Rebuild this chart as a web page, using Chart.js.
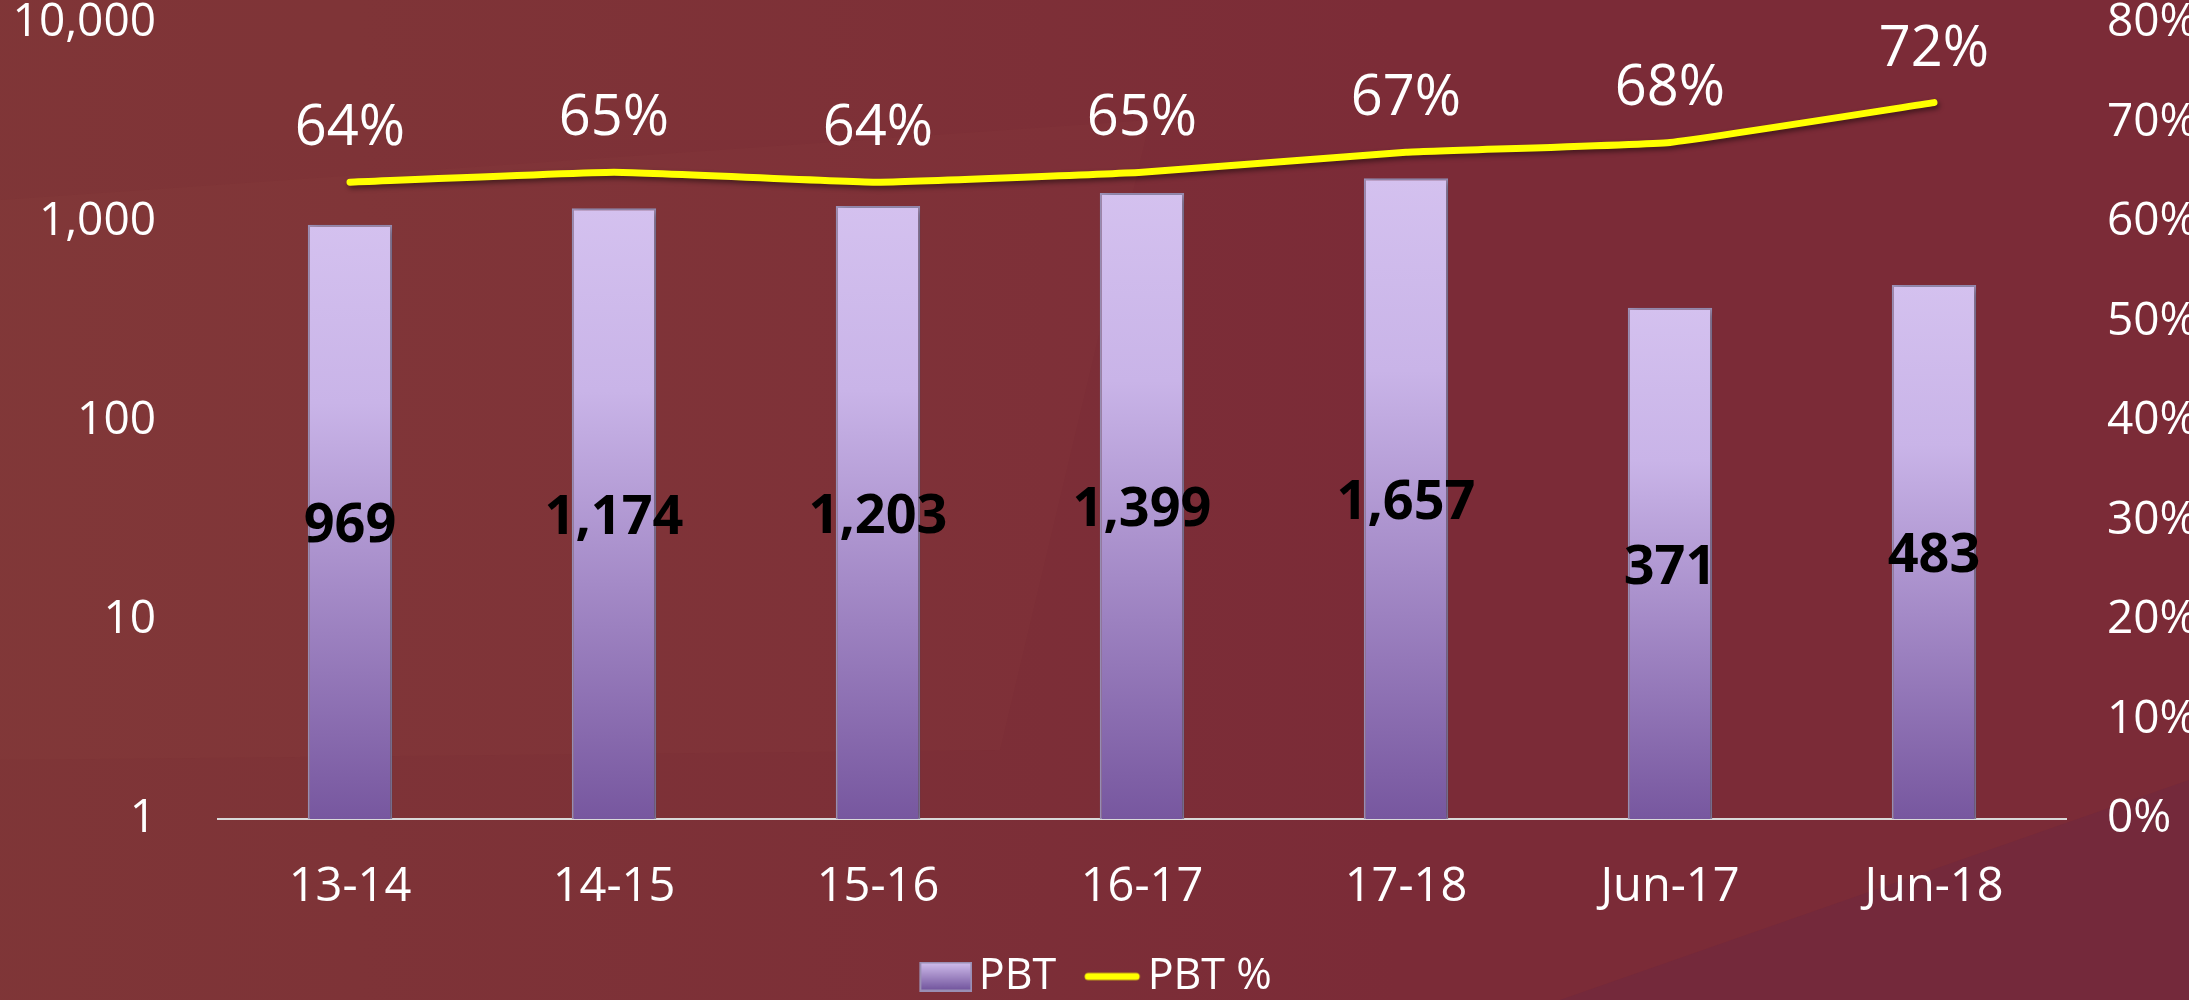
<!DOCTYPE html>
<html><head><meta charset="utf-8">
<script src="https://cdn.jsdelivr.net/npm/chart.js@4.4.0/dist/chart.umd.min.js"></script>
<style>html,body{margin:0;padding:0;background:#7c2d37;overflow:hidden}</style>
</head><body>
<canvas id="c" width="2189" height="1000"></canvas>
<script>
const categories = ['13-14','14-15','15-16','16-17','17-18','Jun-17','Jun-18'];
const pbtValues = [969, 1174, 1203, 1399, 1657, 371, 483];
const pbtPercent = [64, 65, 64, 65, 67, 68, 72];
const leftTicks = [1, 10, 100, 1000, 10000];
const rightMax = 80;
const rightStep = 10;
const seriesNames = ['PBT', 'PBT %'];

const FONT = "'Open Sans', 'Liberation Sans', sans-serif";
Chart.defaults.font.family = FONT;

function fmt(n){ return String(n).replace(/\B(?=(\d{3})+(?!\d))/g, ','); }

// legend swatches
function barSwatch(){
  const c = document.createElement('canvas'); c.width = 70; c.height = 30;
  const g = c.getContext('2d');
  const gr = g.createLinearGradient(0,0,0,30);
  gr.addColorStop(0,'#d4c1ef'); gr.addColorStop(1,'#6d4f99');
  g.fillStyle = gr; g.fillRect(17,0,53,30);
  g.strokeStyle = '#9a8fb4'; g.lineWidth = 2; g.strokeRect(18,1,51,28);
  return c;
}
function lineSwatch(){
  const c = document.createElement('canvas'); c.width = 70; c.height = 30;
  const g = c.getContext('2d');
  g.strokeStyle = '#ffff00'; g.lineWidth = 7; g.lineCap = 'round';
  g.beginPath(); g.moveTo(17,15); g.lineTo(65,15); g.stroke();
  return c;
}

const bgPlugin = {
  id: 'bg',
  beforeLayout(chart){
    const lg = chart.legend;
    if (lg && !lg._fixH){
      const orig = lg.fit.bind(lg);
      lg.fit = function(){ orig(); this.height = 75; };
      lg._fixH = true;
    }
  },
  beforeDraw(chart){
    const ctx = chart.ctx, W = chart.width, H = chart.height;
    ctx.save();
    ctx.fillStyle = '#7b2b37'; ctx.fillRect(0,0,W,H);
    let g = ctx.createLinearGradient(0,0,1400,0);
    g.addColorStop(0,'rgba(130,62,55,0.55)'); g.addColorStop(0.6,'rgba(130,62,55,0.25)'); g.addColorStop(1,'rgba(130,62,55,0)');
    ctx.fillStyle = g; ctx.fillRect(0,0,W,H);
    ctx.fillStyle = 'rgba(140,60,60,0.08)'; ctx.fillRect(0,0,1500,140);
    ctx.fillStyle = 'rgba(150,90,70,0.07)';
    ctx.beginPath(); ctx.moveTo(0,200); ctx.lineTo(1150,120); ctx.lineTo(1000,750); ctx.lineTo(0,760); ctx.closePath(); ctx.fill();
    ctx.fillStyle = 'rgba(95,35,70,0.25)';
    ctx.beginPath(); ctx.moveTo(1560,1000); ctx.lineTo(W,780); ctx.lineTo(W,H); ctx.closePath(); ctx.fill();
    ctx.restore();
  }
};

const shadowPlugin = {
  id: 'shadows',
  beforeDatasetDraw(chart, args){
    const ctx = chart.ctx; ctx.save();
    if (args.meta.type === 'bar'){
      ctx.shadowColor = 'rgba(0,0,0,0.35)'; ctx.shadowBlur = 8; ctx.shadowOffsetX = 4; ctx.shadowOffsetY = 2;
    } else {
      ctx.shadowColor = 'rgba(0,0,0,0.45)'; ctx.shadowBlur = 5; ctx.shadowOffsetX = 2; ctx.shadowOffsetY = 3;
    }
  },
  afterDatasetDraw(chart){ chart.ctx.restore(); }
};

const labelPlugin = {
  id: 'vlabels',
  afterDatasetsDraw(chart){
    const ctx = chart.ctx;
    ctx.save();
    ctx.textAlign = 'center'; ctx.textBaseline = 'middle';
    const barMeta = chart.getDatasetMeta(0);
    ctx.font = "bold 54px " + FONT; ctx.fillStyle = '#000000';
    barMeta.data.forEach((el,i) => {
      ctx.fillText(fmt(pbtValues[i]), el.x, (el.y + el.base)/2 + 5);
    });
    const lineMeta = chart.getDatasetMeta(1);
    ctx.font = "56px " + FONT; ctx.fillStyle = '#ffffff';
    lineMeta.data.forEach((el,i) => {
      ctx.fillText(pbtPercent[i] + '%', el.x, el.y - 53);
    });
    ctx.restore();
  }
};

const swA = barSwatch(), swB = lineSwatch();

function fixVPad(s, w){ s.width = w; s.paddingTop = 23; s.paddingBottom = 23; }

new Chart(document.getElementById('c'), {
  data: {
    labels: categories,
    datasets: [
      {
        type: 'bar', label: seriesNames[0], data: pbtValues, yAxisID: 'y', order: 2,
        backgroundColor: (c) => {
          const chart = c.chart; const area = chart.chartArea;
          if (!area || c.raw == null) return '#b9a3dc';
          const top = chart.scales.y.getPixelForValue(c.raw);
          const g = chart.ctx.createLinearGradient(0, top, 0, area.bottom);
          g.addColorStop(0, '#d4c1ef'); g.addColorStop(0.3, '#c9b4e8'); g.addColorStop(1, '#77579f');
          return g;
        },
        borderColor: '#9c91b8', borderWidth: 2,
        categoryPercentage: 1, barPercentage: 0.32
      },
      {
        type: 'line', label: seriesNames[1], data: pbtPercent, yAxisID: 'y1', order: 1,
        borderColor: '#ffff00', backgroundColor: '#ffff00', borderWidth: 7,
        pointRadius: 0, tension: 0.1, borderCapStyle: 'round', borderJoinStyle: 'round'
      }
    ]
  },
  options: {
    responsive: false, animation: false,
    layout: { padding: { top: 0, left: 0, right: 0, bottom: 0 } },
    plugins: {
      tooltip: { enabled: false },
      legend: {
        position: 'bottom',
        labels: {
          color: '#ffffff', font: { size: 43, lineHeight: 1 }, padding: 30,
          usePointStyle: true, pointStyleWidth: 40, boxHeight: 30,
          generateLabels: () => [
            { text: seriesNames[0], pointStyle: swA, fillStyle: '#b9a3dc', strokeStyle: '#9c91b8', lineWidth: 0, hidden: false, datasetIndex: 0, fontColor: '#ffffff' },
            { text: seriesNames[1], pointStyle: swB, fillStyle: '#ffff00', strokeStyle: '#ffff00', lineWidth: 0, hidden: false, datasetIndex: 1, fontColor: '#ffffff' }
          ]
        }
      }
    },
    scales: {
      x: {
        grid: { display: false, drawTicks: false },
        border: { display: true, color: '#d9d9d9', width: 2 },
        ticks: { color: '#ffffff', font: { size: 47, lineHeight: 1 }, padding: 45, maxRotation: 0 },
        afterFit: (s) => { s.height = 106; }
      },
      y: {
        type: 'logarithmic', position: 'left', min: 1, max: 10000,
        grid: { display: false, drawTicks: false },
        border: { display: false },
        ticks: { color: '#ffffff', font: { size: 46, lineHeight: 1 }, padding: 62,
          callback: (v) => leftTicks.includes(v) ? fmt(v) : '' },
        afterBuildTicks: (s) => { s.ticks = leftTicks.map(v => ({ value: v })); },
        afterFit: (s) => fixVPad(s, 218)
      },
      y1: {
        type: 'linear', position: 'right', min: 0, max: rightMax,
        grid: { display: false, drawTicks: false },
        border: { display: false },
        ticks: { color: '#ffffff', font: { size: 46, lineHeight: 1 }, padding: 41, stepSize: rightStep,
          callback: (v) => v + '%' },
        afterFit: (s) => fixVPad(s, 123)
      }
    }
  },
  plugins: [bgPlugin, shadowPlugin, labelPlugin]
});
</script>
</body></html>
